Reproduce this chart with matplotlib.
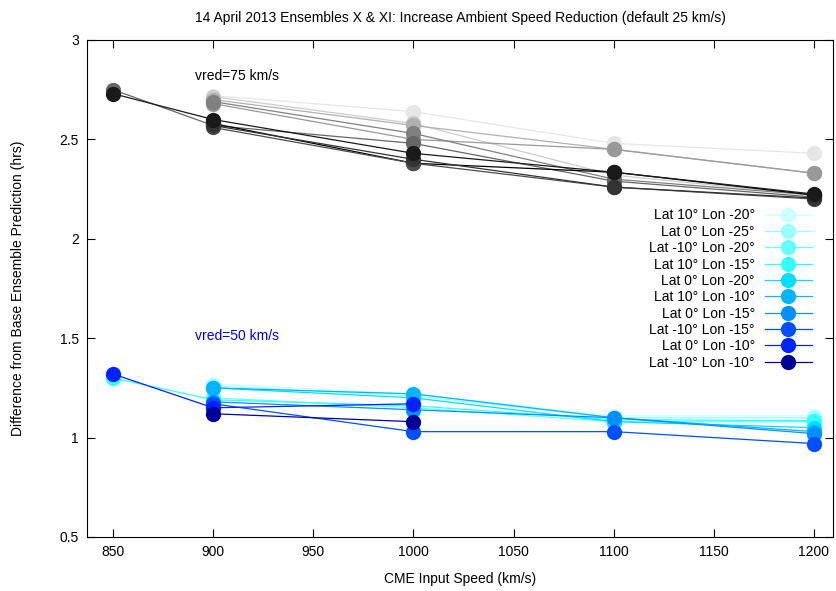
import numpy as np
import matplotlib
matplotlib.use('Agg')
import matplotlib.pyplot as plt

plt.rcParams['font.family'] = ['Liberation Sans', 'DejaVu Sans']

speeds = [850, 900, 1000, 1100, 1200]
nan = np.nan

# vred = 75 km/s (grey series, not in legend)
gray_colors = ['#e6e6e6', '#cccccc', '#b0b0b0', '#999999', '#808080',
               '#666666', '#000000', '#4d4d4d', '#333333', '#1a1a1a']
gray_vals = [
    [nan, 2.72, 2.64, 2.48, 2.43],
    [nan, 2.715, 2.58, 2.32, 2.22],
    [nan, 2.70, 2.57, 2.45, 2.33],
    [nan, 2.68, 2.50, 2.45, 2.33],
    [nan, 2.69, 2.53, 2.30, 2.22],
    [2.75, 2.57, 2.48, 2.29, 2.21],
    [nan, 2.58, 2.38, 2.335, 2.22],
    [nan, 2.56, 2.38, 2.26, 2.20],
    [nan, 2.57, 2.40, 2.26, 2.205],
    [2.73, 2.60, 2.43, 2.335, 2.225],
]

# vred = 50 km/s (blue series)
blue_labels = ['Lat 10° Lon -20°', 'Lat 0° Lon -25°', 'Lat -10° Lon -20°',
               'Lat 10° Lon -15°', 'Lat 0° Lon -20°', 'Lat 10° Lon -10°',
               'Lat 0° Lon -15°', 'Lat -10° Lon -15°', 'Lat 0° Lon -10°',
               'Lat -10° Lon -10°']
blue_colors = ['#ccffff', '#99ffff', '#66ffff', '#33ffff', '#00ddff',
               '#00b4ff', '#0090ff', '#0050ff', '#0022ff', '#000099']
blue_vals = [
    [nan, 1.27, 1.22, 1.11, 1.11],
    [nan, 1.26, 1.21, 1.10, 1.10],
    [nan, 1.20, 1.15, 1.08, 1.08],
    [1.30, 1.19, 1.16, 1.09, 1.085],
    [nan, 1.25, 1.20, 1.08, 1.05],
    [nan, 1.25, 1.22, 1.10, 1.03],
    [nan, 1.18, 1.14, 1.10, 1.02],
    [nan, 1.17, 1.03, 1.03, 0.97],
    [1.32, 1.15, 1.17, nan, nan],
    [nan, 1.12, 1.08, nan, nan],
]

fig = plt.figure(figsize=(8.36, 5.91), dpi=100)
ax = fig.add_axes([87/836, 54/591, 746/836, 497/591])

for vals, col in zip(gray_vals, gray_colors):
    v = np.array(vals)
    m = ~np.isnan(v)
    ax.plot(np.array(speeds)[m], v[m], color=col, lw=0.9, marker='o',
            ms=11, mew=0)

for vals, col, lab in zip(blue_vals, blue_colors, blue_labels):
    v = np.array(vals)
    m = ~np.isnan(v)
    ax.plot(np.array(speeds)[m], v[m], color=col, lw=0.9, marker='o',
            ms=11, mew=0, label=lab)

ax.text(891, 2.80, 'vred=75 km/s', fontsize=10, color='black')
ax.text(891, 1.49, 'vred=50 km/s', fontsize=10, color='#0000ee')

ax.set_xlim(837, 1209.5)
ax.set_ylim(0.5, 3)
ax.set_xticks(np.arange(850, 1201, 50))
ax.set_yticks(np.arange(0.5, 3.01, 0.5))
ax.set_yticklabels(['0.5', '1', '1.5', '2', '2.5', '3'])
ax.tick_params(direction='in', top=True, right=True, length=6,
               labelsize=10, pad=6)

ax.set_title('14 April 2013 Ensembles X & XI: Increase Ambient Speed Reduction (default 25 km/s)',
             fontsize=10, pad=13)
ax.set_xlabel('CME Input Speed (km/s)', fontsize=10, labelpad=9)
ax.set_ylabel('Difference from Base Ensemble Prediction (hrs)', fontsize=10,
              labelpad=25)

ax.legend(loc='upper right', bbox_to_anchor=(0.981, 0.675), markerfirst=False,
          frameon=False, fontsize=10, handlelength=3.4, labelspacing=0.17,
          handletextpad=0.7, borderpad=0)

fig.savefig('out.png', dpi=100)
